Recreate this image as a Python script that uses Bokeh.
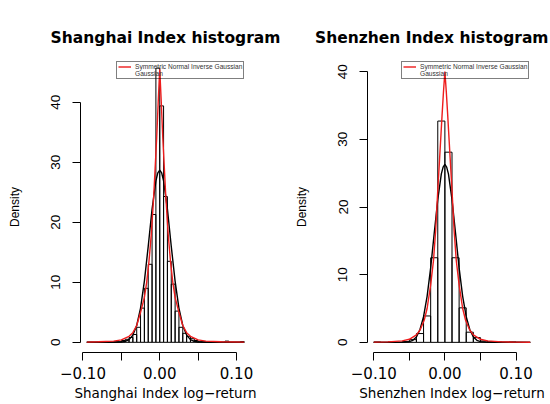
from bokeh.plotting import figure
from bokeh.models import Range1d, FixedTicker, Legend, LegendItem, ColumnDataSource
from bokeh.layouts import row
from bokeh.embed import file_html
from bokeh.resources import INLINE

# ---------------- data ----------------
# Shanghai: histogram densities, bin width 0.005, breaks -0.095 .. 0.110
sh_breaks = [-0.095, -0.090, -0.085, -0.080, -0.075, -0.070, -0.065, -0.060, -0.055,
             -0.050, -0.045, -0.040, -0.035, -0.030, -0.025, -0.020, -0.015, -0.010,
             -0.005, 0.000, 0.005, 0.010, 0.015, 0.020, 0.025, 0.030, 0.035, 0.040,
             0.045, 0.050, 0.055, 0.060, 0.065, 0.070, 0.075, 0.080, 0.085, 0.090,
             0.095, 0.100, 0.105, 0.110]
sh_density = [0, 0, 0, 0, 0.1, 0, 0, 0.1, 0.1,
              0.3, 0.5, 0.8, 1.3, 2.5, 5.7, 9.0, 13.0, 21.3,
              45.7, 39.4, 24.3, 13.5, 9.7, 5.2, 2.5, 1.5, 1.0,
              0.6, 0.3, 0.1, 0.1, 0, 0.1, 0, 0, 0, 0.2, 0, 0, 0, 0.1]

# Shanghai fitted curves
sh_nig_x = [-0.095, -0.08, -0.06, -0.05, -0.04, -0.035, -0.03, -0.025, -0.02, -0.017,
            -0.014, -0.011, -0.008, -0.006, -0.004, -0.002, 0.0, 0.002, 0.004, 0.006,
            0.008, 0.011, 0.014, 0.017, 0.02, 0.025, 0.03, 0.035, 0.04, 0.05, 0.06,
            0.08, 0.11]
sh_nig_y = [0.03, 0.08, 0.2, 0.4, 1.0, 1.6, 2.8, 5.0, 7.5, 10.0,
            13.5, 18.0, 24.0, 29.0, 34.0, 40.0, 45.5, 40.0, 34.0, 29.0,
            24.0, 18.0, 13.5, 10.0, 7.5, 5.0, 2.8, 1.6, 1.0, 0.4, 0.2,
            0.08, 0.03]
sh_norm_x = [-0.095, -0.06, -0.05, -0.045, -0.04, -0.035, -0.03, -0.025, -0.02, -0.015,
             -0.01, -0.005, -0.0025, 0.0, 0.0025, 0.005, 0.01, 0.015, 0.02, 0.025,
             0.03, 0.035, 0.04, 0.045, 0.05, 0.06, 0.11]
sh_norm_y = [0, 0, 0.05, 0.15, 0.45, 1.2, 2.8, 5.7, 10.2, 16.0,
             22.2, 26.9, 28.25, 28.7, 28.25, 26.9, 22.2, 16.0, 10.2, 5.7,
             2.8, 1.2, 0.45, 0.15, 0.05, 0, 0]

# Shenzhen: histogram densities, bin width 0.01, breaks -0.10 .. 0.12
sz_breaks = [-0.10, -0.09, -0.08, -0.07, -0.06, -0.05, -0.04, -0.03, -0.02, -0.01, 0.00,
             0.01, 0.02, 0.03, 0.04, 0.05, 0.06, 0.07, 0.08, 0.09, 0.10, 0.11, 0.12]
sz_density = [0.05, 0, 0.05, 0, 0.1, 0.4, 1.3, 3.9, 12.5, 32.7,
              28.1, 12.5, 5.1, 1.5, 0.7, 0.2, 0.1, 0.05, 0, 0.05, 0, 0]

# Shenzhen fitted curves
sz_nig_x = [-0.10, -0.08, -0.06, -0.05, -0.04, -0.035, -0.029, -0.025, -0.02, -0.016,
            -0.013, -0.01, -0.0075, -0.004, -0.002, 0.0, 0.002, 0.004, 0.0075, 0.01,
            0.013, 0.016, 0.02, 0.025, 0.029, 0.035, 0.04, 0.05, 0.06, 0.08, 0.10, 0.12]
sz_nig_y = [0.03, 0.07, 0.22, 0.45, 1.1, 1.8, 3.3, 5.0, 8.5, 12.1,
            16.5, 22.5, 27.0, 33.5, 37.0, 40.0, 37.0, 33.5, 27.0, 22.5,
            16.5, 12.1, 8.5, 5.0, 3.3, 1.8, 1.1, 0.45, 0.22, 0.07, 0.03, 0.01]
sz_norm_x = [-0.10, -0.06, -0.05, -0.045, -0.04, -0.035, -0.03, -0.025, -0.02, -0.015,
             -0.01, -0.005, -0.0025, 0.0, 0.0025, 0.005, 0.01, 0.015, 0.02, 0.025,
             0.03, 0.035, 0.04, 0.045, 0.05, 0.06, 0.12]
sz_norm_y = [0, 0.02, 0.1, 0.3, 0.8, 1.9, 3.8, 6.8, 11.0, 16.1,
             21.1, 24.9, 25.9, 26.3, 25.9, 24.9, 21.1, 16.1, 11.0, 6.8,
             3.8, 1.9, 0.8, 0.3, 0.1, 0.02, 0]

x_ticks = [-0.10, -0.05, 0.00, 0.05, 0.10]
x_tick_labels = ["\u22120.10", "", "0.00", "", "0.10"]
y_ticks = [0, 10, 20, 30, 40]

legend_labels = ["Symmetric Normal Inverse Gaussian", "Gaussian"]


def panel(title, xlabel, breaks, dens, nig_x, nig_y, norm_x, norm_y,
          y_top, y_bottom, border_left, frame_w, border_right, legend_loc,
          title_align="center", title_offset=0):
    span = breaks[-1] - breaks[0]
    x0 = breaks[0] - 0.04 * span
    x1 = breaks[-1] + 0.04 * span
    p = figure(width=border_left + frame_w + border_right, height=404,
               output_backend="svg", toolbar_location=None,
               x_range=Range1d(x0, x1), y_range=Range1d(y_bottom, y_top),
               min_border_left=border_left, min_border_right=border_right,
               min_border_top=61, min_border_bottom=52)
    p.outline_line_color = None
    p.grid.visible = False
    p.background_fill_color = "white"
    p.border_fill_color = "white"

    p.title.text = title
    p.title.text_font = "DejaVu Sans"
    p.title.text_font_style = "bold"
    p.title.text_font_size = "15.5px"
    p.title.text_color = "black"
    p.title.align = title_align
    p.title.offset = title_offset
    p.title.standoff = 30

    src = ColumnDataSource(dict(left=breaks[:-1], right=breaks[1:],
                                top=dens, bottom=[0] * len(dens)))
    p.quad(left="left", right="right", top="top", bottom="bottom", source=src,
           fill_alpha=0, line_color="black", line_width=1)

    p.line(norm_x, norm_y, line_color="black", line_width=1.4)
    nig = p.line(nig_x, nig_y, line_color="#ee1c1c", line_width=1.4)
    gauss_key = p.line([], [], line_color="#888888", line_width=1.2, line_dash="1 3")

    legend = Legend(items=[LegendItem(label=legend_labels[0], renderers=[nig]),
                           LegendItem(label=legend_labels[1], renderers=[gauss_key])],
                    location=legend_loc, label_text_font="Liberation Sans",
                    label_text_font_size="6.6px", label_text_color="#333333",
                    glyph_width=13, glyph_height=7,
                    label_height=7, label_standoff=4, spacing=0, padding=1, margin=0,
                    border_line_color="black", border_line_width=1,
                    background_fill_alpha=0)
    p.add_layout(legend, "center")

    xa = p.xaxis[0]
    xa.ticker = FixedTicker(ticks=x_ticks)
    xa.major_label_overrides = dict(zip(x_ticks, x_tick_labels))
    xa.bounds = (x_ticks[0], x_ticks[-1])
    xa.minor_tick_line_color = None
    xa.major_tick_in = 0
    xa.major_tick_out = 8
    xa.major_label_standoff = 6
    xa.major_label_text_font = "DejaVu Sans"
    xa.major_label_text_font_size = "15px"
    xa.major_label_text_color = "black"
    xa.axis_label = xlabel
    xa.axis_label_text_font = "DejaVu Sans"
    xa.axis_label_text_font_size = "13.5px"
    xa.axis_label_text_font_style = "normal"
    xa.axis_label_text_color = "black"
    xa.axis_label_standoff = 3

    ya = p.yaxis[0]
    ya.ticker = FixedTicker(ticks=y_ticks)
    ya.bounds = (y_ticks[0], y_ticks[-1])
    ya.minor_tick_line_color = None
    ya.major_tick_in = 0
    ya.major_tick_out = 8
    ya.major_label_orientation = "vertical"
    ya.major_label_standoff = 12
    ya.major_label_text_font = "Liberation Sans"
    ya.major_label_text_font_size = "13.5px"
    ya.major_label_text_color = "black"
    ya.axis_label = "Density"
    ya.axis_label_text_font = "Liberation Sans"
    ya.axis_label_text_font_size = "12px"
    ya.axis_label_text_font_style = "normal"
    ya.axis_label_text_color = "black"
    ya.axis_label_standoff = 27
    return p


p1 = panel("Shanghai Index histogram", "Shanghai Index log\u2212return",
           sh_breaks, sh_density, sh_nig_x, sh_nig_y, sh_norm_x, sh_norm_y,
           46.8, -1.7, 80, 170, 37, (36, 273))
p2 = panel("Shenzhen Index histogram", "Shenzhen Index log\u2212return",
           sz_breaks, sz_density, sz_nig_x, sz_nig_y, sz_norm_x, sz_norm_y,
           41.5, -1.5, 80, 169, 14, (34, 273),
           title_align="right", title_offset=-12)

layout = row(p1, p2)
open("out.html", "w").write(file_html(layout, INLINE))
